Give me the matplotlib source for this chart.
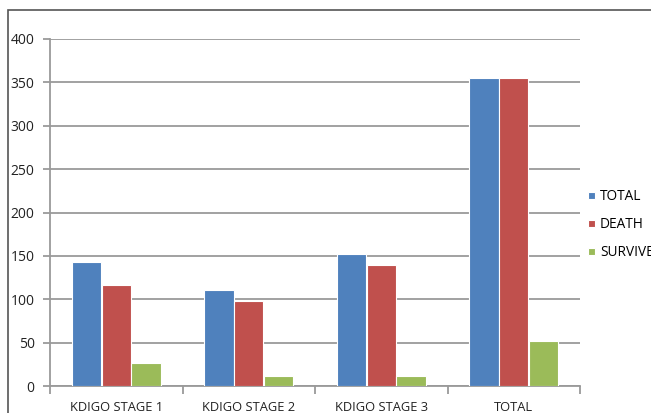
import matplotlib
matplotlib.use("Agg")
import matplotlib.pyplot as plt
from matplotlib.patches import Rectangle
import numpy as np

categories = ["KDIGO STAGE 1", "KDIGO STAGE 2", "KDIGO STAGE 3", "TOTAL"]
series_names = ["TOTAL", "DEATH", "SURVIVE"]
total = [143, 111, 152, 355]
death = [116, 98, 139, 355]
survive = [27, 12, 12, 52]
colors = ["#4F81BD", "#C0504D", "#9BBB59"]

plt.rcParams['font.family'] = ['Open Sans', 'DejaVu Sans']

fig = plt.figure(figsize=(6.51, 4.13), dpi=100)
ax = fig.add_axes([50/651, 1-386/413, 530/651, (386-39)/413])

x = np.arange(len(categories))
w = 0.22
off = 0.225
for i, (vals, name, c) in enumerate(zip([total, death, survive], series_names, colors)):
    ax.bar(x + (i-1)*off, vals, width=w, color=c, edgecolor="white", linewidth=0.8,
           label=name, zorder=3)

ax.set_xlim(-0.5, 3.5)
ax.set_ylim(0, 400)
ax.set_yticks(range(0, 401, 50))
ax.yaxis.grid(True, color="#9a9a9a", linewidth=1.3, zorder=0)
ax.set_axisbelow(True)
for s in ["top", "right"]:
    ax.spines[s].set_visible(False)
ax.spines["left"].set_color("#9a9a9a")
ax.spines["bottom"].set_color("#9a9a9a")
ax.spines["left"].set_linewidth(1.3)
ax.spines["bottom"].set_linewidth(1.3)

ax.set_xticks(x)
ax.set_xticklabels(categories, fontsize=9.3, color="#222222")
ax.set_xticks(np.arange(-0.5, 3.6, 1.0), minor=True)
ax.tick_params(axis="x", which="major", length=0, pad=10.5)
ax.tick_params(axis="x", which="minor", length=6, color="#9a9a9a", width=1.3)
ax.tick_params(axis="y", length=5, color="#9a9a9a", width=1.3, labelsize=10,
               labelcolor="#222222", pad=6)

leg = fig.legend(loc="upper left", bbox_to_anchor=(583/651, 1-184/413), frameon=False,
                 fontsize=9.8, handlelength=0.5, handleheight=0.5, handletextpad=0.35,
                 labelspacing=0.95, borderaxespad=0)

fig.patches.append(Rectangle((8/651, -0.1), 1.2, 1-10/413+0.1, transform=fig.transFigure,
                             fill=False, edgecolor="#555555", linewidth=1.2))

fig.savefig("out.png", dpi=100)
